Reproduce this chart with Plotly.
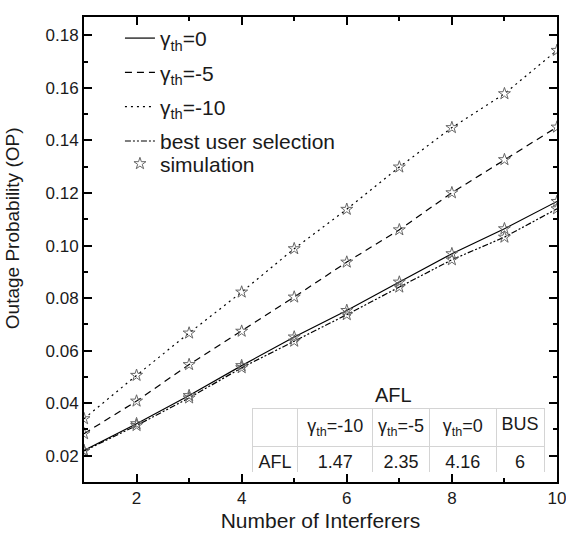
import plotly.graph_objects as go

# Number of interferers
interferers = [1, 2, 3, 4, 5, 6, 7, 8, 9, 10]

# Analytical outage probability
op_th0 = [0.0220, 0.0322, 0.0429, 0.0543, 0.0652, 0.0753, 0.0861, 0.0969, 0.1064, 0.1168]
op_thm5 = [0.0284, 0.0408, 0.0547, 0.0674, 0.0804, 0.0937, 0.1060, 0.1201, 0.1327, 0.1451]
op_thm10 = [0.0341, 0.0506, 0.0667, 0.0823, 0.0988, 0.1138, 0.1299, 0.1449, 0.1578, 0.1743]
op_bus = [0.0218, 0.0315, 0.0420, 0.0535, 0.0636, 0.0737, 0.0842, 0.0946, 0.1032, 0.1140]

# Monte-Carlo simulation results
sim_th0 = [0.0220, 0.0322, 0.0429, 0.0543, 0.0652, 0.0753, 0.0861, 0.0969, 0.1064, 0.1168]
sim_thm5 = [0.0284, 0.0408, 0.0547, 0.0674, 0.0804, 0.0937, 0.1060, 0.1201, 0.1327, 0.1451]
sim_thm10 = [0.0341, 0.0506, 0.0667, 0.0823, 0.0988, 0.1138, 0.1299, 0.1449, 0.1578, 0.1743]
sim_bus = [0.0218, 0.0315, 0.0420, 0.0535, 0.0636, 0.0737, 0.0842, 0.0946, 0.1032, 0.1140]

# Average feedback load table
afl_headers = ["", "γ<sub>th</sub>=-10", "γ<sub>th</sub>=-5", "γ<sub>th</sub>=0", "BUS"]
afl_values = ["AFL", "1.47", "2.35", "4.16", "6"]

FONT = "Liberation Sans, Arial, sans-serif"
TXT = "#1a1a1a"

fig = go.Figure()

curves = [
    ("γ<sub>th</sub>=0", op_th0, "solid", "g0"),
    ("γ<sub>th</sub>=-5", op_thm5, "7px,5px", "g1"),
    ("γ<sub>th</sub>=-10", op_thm10, "2px,4px", "g2"),
    ("best user selection", op_bus, "6px,2px,2px,2px,2px,2px", "g3"),
]
for name, ys, dash, grp in curves:
    fig.add_trace(go.Scatter(
        x=interferers, y=ys, mode="lines", name=name, legendgroup=grp,
        line=dict(color="black", width=1.2, dash=dash),
    ))

sim_x = interferers * 4
sim_y = sim_th0 + sim_thm5 + sim_thm10 + sim_bus
fig.add_trace(go.Scatter(
    x=sim_x, y=sim_y, mode="markers", name="simulation", legend="legend2",
    marker=dict(symbol="star-open", size=9, color="#666666",
                line=dict(width=1, color="#666666")),
))

# AFL table
fig.add_trace(go.Table(
    domain=dict(x=[0.3552, 0.9746], y=[0.02, 0.1591]),
    columnwidth=[46, 75, 57, 67, 48],
    header=dict(values=afl_headers, height=30, align="center",
                fill=dict(color="white"), line=dict(color="#d4d4d4", width=1),
                font=dict(family=FONT, size=18, color=TXT)),
    cells=dict(values=[[v] for v in afl_values], height=29, align="center",
               fill=dict(color="white"), line=dict(color="#d4d4d4", width=1),
               font=dict(family=FONT, size=18, color=TXT)),
))

fig.add_annotation(x=0.655, y=0.188, xref="paper", yref="paper",
                   text="AFL", showarrow=False, yanchor="middle", xanchor="center",
                   font=dict(family=FONT, size=20, color=TXT))

# Y axis title placed beside the tick labels
fig.add_annotation(x=-0.152, y=0.546, xref="paper", yref="paper",
                   text="Outage Probability (OP)", showarrow=False, textangle=-90,
                   xanchor="center", yanchor="middle",
                   font=dict(family=FONT, size=19, color=TXT))

axis_common = dict(
    showline=True, linecolor="black", linewidth=2, mirror="ticks",
    ticks="inside", ticklen=8, tickwidth=1.5, tickcolor="black",
    showgrid=False, zeroline=False, automargin=False, ticklabeloverflow="allow",
    tickfont=dict(family=FONT, size=17, color=TXT),
)
fig.update_xaxes(
    range=[1, 10], tick0=0, dtick=2,
    minor=dict(ticks="inside", ticklen=4, tickwidth=1.5, tickcolor="black", dtick=1, tick0=0),
    title=dict(text="Number of Interferers", font=dict(family=FONT, size=21, color=TXT), standoff=6),
    **axis_common,
)
fig.update_yaxes(
    range=[0.01, 0.187], tick0=0, dtick=0.02, tickformat=".2f",
    minor=dict(ticks="inside", ticklen=4, tickwidth=1.5, tickcolor="black", dtick=0.01, tick0=0),
    **axis_common,
)

legend_style = dict(xanchor="left", yanchor="top", bgcolor="rgba(0,0,0,0)",
                    font=dict(family=FONT, size=21, color=TXT), itemwidth=30)
fig.update_layout(
    width=566, height=536,
    margin=dict(l=84, r=9, t=17, b=54),
    paper_bgcolor="white", plot_bgcolor="white",
    font=dict(family=FONT, color=TXT),
    legend=dict(x=0.076, y=0.998, tracegroupgap=4, **legend_style),
    legend2=dict(x=0.076, y=0.728, **legend_style),
    showlegend=True,
)

fig.write_html("out.html")
